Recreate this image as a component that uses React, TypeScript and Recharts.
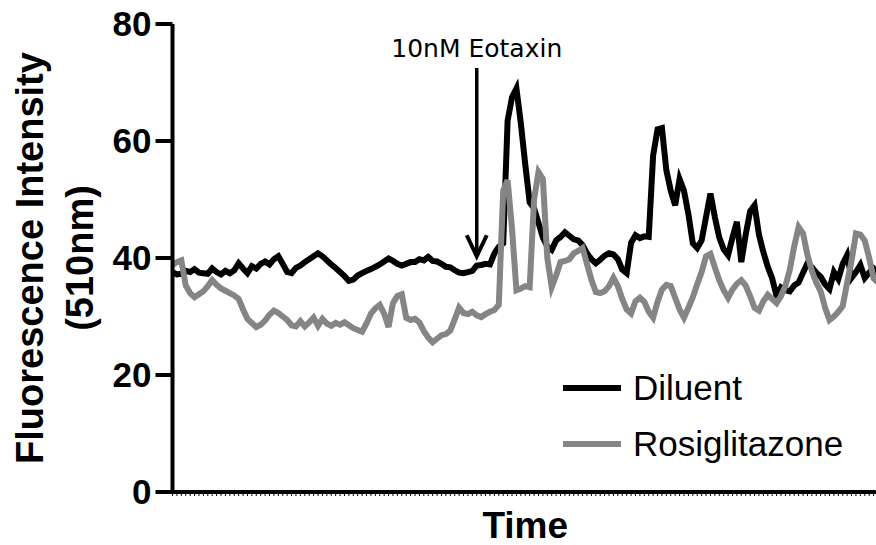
import React from "react";
import {
  LineChart,
  Line,
  XAxis,
  YAxis,
  Legend,
  Label,
  ReferenceLine,
} from "recharts";

// Calcium flux traces, one reading per time step
const diluent = [
  37.6, 37.2, 37.3, 37.8, 37.6, 38.1, 37.5, 37.4, 37.3, 38.2,
  37.6, 37.2, 37.8, 37.4, 37.9, 39.1, 38.2, 37.4, 38.6, 38.2,
  39.0, 39.4, 38.9, 39.8, 40.3, 39.0, 37.6, 37.4, 38.3, 38.7,
  39.3, 39.8, 40.3, 40.8, 40.3, 39.6, 38.9, 38.3, 37.6, 36.9,
  36.1, 36.3, 37.0, 37.4, 37.8, 38.1, 38.5, 38.9, 39.4, 39.9,
  39.5, 39.0, 38.7, 39.0, 39.3, 39.3, 39.8, 39.6, 40.2, 39.5,
  39.4, 39.0, 38.5, 38.4, 37.9, 37.5, 37.4, 37.6, 37.8, 38.7,
  38.8, 39.0, 38.9, 40.8, 41.9, 42.5, 63.5, 67.5, 69.0, 63.0,
  56.0, 49.5, 48.5, 46.0, 43.5, 42.0, 41.4, 43.0, 43.6, 44.4,
  43.8, 43.2, 43.0, 42.2, 40.8, 39.8, 39.1, 39.7, 40.4, 40.8,
  40.6, 39.8, 38.0, 37.4, 42.6, 43.9, 43.4, 43.7, 43.6, 57.5,
  62.0, 62.2, 55.0, 51.5, 49.0, 53.5, 51.5, 47.5, 42.5, 41.7,
  43.0, 47.0, 51.0, 47.0, 43.5, 41.5, 40.5, 43.5, 46.2, 39.3,
  44.0, 48.0, 49.0, 44.0, 41.0, 38.5, 36.5, 33.5, 35.0, 34.5,
  34.3, 35.3, 35.8, 37.5, 39.1, 38.4, 37.5, 36.8, 35.5, 34.7,
  37.6, 36.4, 39.0, 40.5, 36.6, 37.6, 38.8, 36.6, 37.5, 38.2,
  37.3,
];

const rosiglitazone = [
  38.8, 39.3, 39.6, 35.3, 34.0, 33.3, 33.8, 34.3, 35.2, 36.2,
  35.4, 34.8, 34.4, 34.0, 33.6, 33.0, 31.2, 29.6, 28.9, 28.2,
  28.6, 29.3, 30.3, 31.0, 30.6, 30.0, 29.4, 28.5, 28.3, 29.2,
  28.3, 29.0, 29.8, 28.4, 29.6, 28.8, 28.4, 28.9, 28.6, 29.0,
  28.5, 28.0, 27.7, 27.4, 28.8, 30.5, 31.4, 32.0, 30.5, 28.2,
  32.3, 33.5, 33.8, 29.8, 29.4, 29.6, 29.0, 27.5, 26.4, 25.6,
  26.2, 26.8, 27.0, 27.6, 29.5, 31.5, 30.6, 30.4, 30.8, 30.2,
  29.9, 30.4, 30.8, 31.1, 32.0, 51.5, 53.3, 45.0, 34.5, 34.8,
  35.2, 35.0, 50.0, 54.7, 53.5, 40.0, 35.0, 37.0, 39.3, 39.5,
  39.8, 40.8, 41.2, 41.7, 39.0, 36.3, 34.2, 34.0, 34.3, 35.2,
  36.6, 35.2, 33.0, 31.2, 30.5, 32.6, 33.2, 32.5, 30.8, 29.8,
  32.5, 34.6, 35.4, 35.2, 33.2, 31.2, 29.8, 31.5, 33.3, 35.5,
  37.6, 40.3, 40.7, 38.4, 36.2, 34.5, 33.2, 34.6, 35.6, 36.2,
  35.3, 33.5, 31.5, 31.0, 32.6, 33.7, 33.0, 32.3, 33.5, 35.2,
  38.0, 42.0, 45.3, 44.2, 40.5, 37.8, 35.8, 34.3, 31.5, 29.4,
  30.0, 30.8, 31.8, 35.8, 39.5, 44.2, 44.0, 43.0, 40.0, 36.5,
  35.8,
];

const yTicks = [0, 20, 40, 60, 80];

// time step where eotaxin was added
const eotaxinStep = 69;

const data = diluent.map((v, i) => ({
  t: i,
  diluent: v,
  rosiglitazone: rosiglitazone[i],
}));

const FONT = "'Liberation Sans', Arial, sans-serif";

const EotaxinArrow = (p: any) => {
  const { x1, y1, y2 } = p;
  return (
    <g>
      <text
        x={x1}
        y={y1 - 11}
        textAnchor="middle"
        fontFamily="'DejaVu Sans', sans-serif"
        fontSize={25}
        fill="#000"
      >
        10nM Eotaxin
      </text>
      <line x1={x1} y1={y1} x2={x1} y2={y2 - 2} stroke="#000" strokeWidth={3.5} />
      <polyline
        points={`${x1 - 10},${y2 - 21} ${x1},${y2} ${x1 + 10},${y2 - 21}`}
        fill="none"
        stroke="#000"
        strokeWidth={4}
      />
    </g>
  );
};

const YTitle = ({ viewBox }: any) => {
  const cy = viewBox ? viewBox.y + viewBox.height / 2 : 258;
  return (
    <g fontFamily={FONT} fontWeight="bold" fontSize={38} textAnchor="middle" fill="#000">
      <text transform={`translate(43, ${cy}) rotate(-90)`}>Fluorescence Intensity</text>
      <text transform={`translate(93, ${cy}) rotate(-90)`}>(510nm)</text>
    </g>
  );
};

const TimeTitle = ({ viewBox }: any) => (
  <text
    x={viewBox.x + viewBox.width / 2}
    y={538}
    textAnchor="middle"
    fontFamily={FONT}
    fontWeight="bold"
    fontSize={37}
    fill="#000"
  >
    Time
  </text>
);

const LegendBox = ({ payload }: any) => (
  <div>
    {(payload || []).map((entry: any) => (
      <div
        key={entry.value}
        style={{ display: "flex", alignItems: "center", height: 56 }}
      >
        <svg width={58} height={8}>
          <line x1={0} y1={4} x2={58} y2={4} stroke={entry.color} strokeWidth={6} />
        </svg>
        <span
          style={{
            marginLeft: 12,
            fontSize: 35,
            fontFamily: FONT,
            color: "#000",
          }}
        >
          {entry.value}
        </span>
      </div>
    ))}
  </div>
);

export default function App() {
  return (
    <div
      style={{
        position: "absolute",
        left: 0,
        top: 0,
        width: 876,
        height: 545,
        overflow: "hidden",
        background: "#fff",
      }}
    >
      <LineChart
        width={880}
        height={545}
        data={data}
        margin={{ top: 24, right: 2, bottom: 43, left: 0 }}
      >
        <XAxis
          dataKey="t"
          interval={0}
          height={10}
          tickSize={4}
          tickFormatter={() => ""}
          axisLine={{ stroke: "#000", strokeWidth: 4 }}
          tickLine={{ stroke: "#000", strokeWidth: 1 }}
        >
          <Label content={TimeTitle} />
        </XAxis>
        <YAxis
          width={172.5}
          domain={[0, 80]}
          ticks={yTicks}
          interval={0}
          tickSize={17}
          tickMargin={4}
          axisLine={{ stroke: "#000", strokeWidth: 4 }}
          tickLine={{ stroke: "#000", strokeWidth: 4 }}
          tick={{ fill: "#000", fontSize: 35, fontWeight: "bold", fontFamily: FONT }}
        >
          <Label content={YTitle} />
        </YAxis>
        <Legend
          content={LegendBox}
          layout="horizontal"
          verticalAlign="middle"
          wrapperStyle={{ position: "absolute", left: 563, top: 360, width: 320 }}
        />
        <ReferenceLine
          segment={[
            { x: eotaxinStep, y: 72.5 },
            { x: eotaxinStep, y: 40.3 },
          ]}
          shape={EotaxinArrow}
        />
        <Line
          name="Diluent"
          dataKey="diluent"
          type="linear"
          stroke="#000"
          strokeWidth={6}
          dot={false}
          isAnimationActive={false}
        />
        <Line
          name="Rosiglitazone"
          dataKey="rosiglitazone"
          type="linear"
          stroke="#858585"
          strokeWidth={6}
          dot={false}
          isAnimationActive={false}
        />
      </LineChart>
    </div>
  );
}
